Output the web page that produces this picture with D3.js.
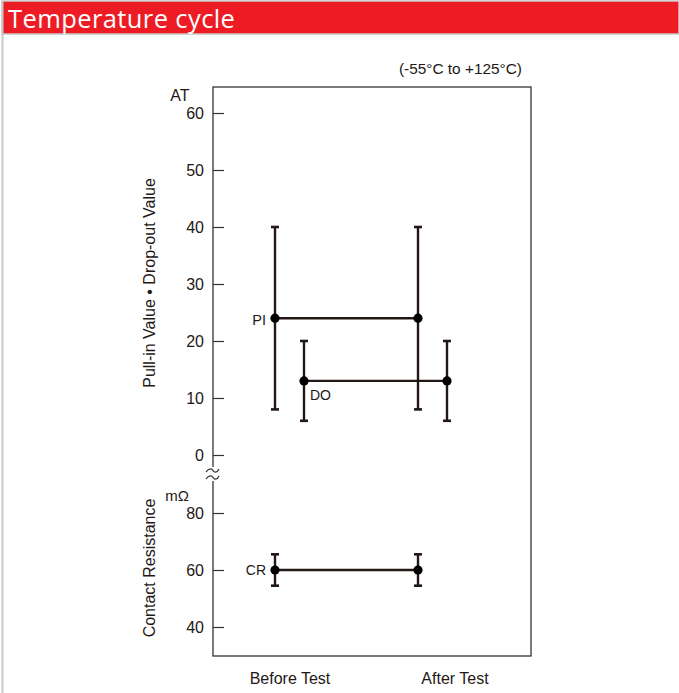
<!DOCTYPE html>
<html><head><meta charset="utf-8">
<script src="https://cdn.jsdelivr.net/npm/d3@7"></script>
<style>
html,body{margin:0;padding:0;background:#fff;}
svg{display:block;}
</style></head>
<body>
<svg id="c" width="679" height="693"></svg>
<script>
const categories = ["Before Test", "After Test"];
const atTicks = [0, 10, 20, 30, 40, 50, 60];
const crTicks = [40, 60, 80];
// series: [center, min, max] per category
const piValues = [[24, 8, 40], [24, 8, 40]];
const doValues = [[13, 6, 20], [13, 6, 20]];
const crValues = [[60, 54.5, 65.5], [60, 54.5, 65.5]];

const svg = d3.select("#c");
const ink = "#231815";

// page frame + header
svg.append("rect").attr("x", 0).attr("y", 0).attr("width", 679).attr("height", 693).attr("fill", "#fff");
svg.append("rect").attr("x", 2).attr("y", 1).attr("width", 677).attr("height", 33).attr("fill", "#ed1c24").attr("stroke", "#c8c8c8").attr("stroke-width", 1.5);
svg.append("line").attr("x1", 2.5).attr("x2", 2.5).attr("y1", 1).attr("y2", 693).attr("stroke", "#c8c8c8").attr("stroke-width", 2);
svg.append("text").attr("x", 8).attr("y", 27.5).attr("fill", "#fff")
  .attr("font-family", "'Open Sans', 'Noto Sans', sans-serif").attr("font-size", 25.5)
  .attr("letter-spacing", 0.4).text("Temperature cycle");

const font = "'Liberation Sans', Arial, sans-serif";

// plot frame
const L = 213, T = 87, R = 531, B = 656;
svg.append("rect").attr("x", L).attr("y", T).attr("width", R - L).attr("height", B - T)
  .attr("fill", "none").attr("stroke", "#333").attr("stroke-width", 1.3);

const yAT = d3.scaleLinear().domain([0, 60]).range([455, 113]);
const yCR = d3.scaleLinear().domain([40, 80]).range([627, 513]);
const x = d3.scalePoint().domain(categories).range([275, 418]);
const doOffset = 29;

function styleAxis(g) {
  g.select(".domain").remove();
  g.selectAll(".tick line").attr("stroke", "#333").attr("stroke-width", 1.2);
  g.selectAll(".tick text").attr("font-family", font).attr("font-size", 16).attr("fill", "#231815");
}
svg.append("g").attr("transform", `translate(${L},0)`)
  .call(d3.axisLeft(yAT).tickValues(atTicks).tickSize(-11).tickPadding(9).tickFormat(d3.format("d")))
  .call(styleAxis);
svg.append("g").attr("transform", `translate(${L},0)`)
  .call(d3.axisLeft(yCR).tickValues(crTicks).tickSize(-11).tickPadding(9).tickFormat(d3.format("d")))
  .call(styleAxis);

// axis break symbol
const by = 474;
svg.append("rect").attr("x", L - 8).attr("y", by - 7).attr("width", 16).attr("height", 14).attr("fill", "#fff");
[-3.5, 3.5].forEach(dy => {
  svg.append("path")
    .attr("d", `M${L - 7},${by + dy + 1.5} C${L - 4},${by + dy - 3} ${L - 1},${by + dy - 2} ${L},${by + dy} S${L + 4},${by + dy + 3} ${L + 6},${by + dy - 1.5}`)
    .attr("fill", "none").attr("stroke", "#333").attr("stroke-width", 1.3);
});

// unit labels
svg.append("text").attr("x", 180).attr("y", 101).attr("text-anchor", "middle").attr("font-family", font).attr("font-size", 16).attr("fill", ink).text("AT");
svg.append("text").attr("x", 177).attr("y", 501).attr("text-anchor", "middle").attr("font-family", font).attr("font-size", 15).attr("fill", ink).text("mΩ");
svg.append("text").attr("x", 522).attr("y", 74).attr("text-anchor", "end").attr("font-family", font).attr("font-size", 15.4).attr("fill", ink).text("(-55°C to +125°C)");

// axis titles
svg.append("text").attr("transform", `translate(155,${283}) rotate(-90)`).attr("text-anchor", "middle")
  .attr("font-family", font).attr("font-size", 16).attr("fill", ink).text("Pull-in Value • Drop-out Value");
svg.append("text").attr("transform", `translate(155,${568}) rotate(-90)`).attr("text-anchor", "middle")
  .attr("font-family", font).attr("font-size", 16).attr("fill", ink).text("Contact Resistance");

// category labels
const catLabelX = [290, 455];
categories.forEach((c, i) => {
  svg.append("text").attr("x", catLabelX[i]).attr("y", 684).attr("text-anchor", "middle")
    .attr("font-family", font).attr("font-size", 16).attr("fill", ink).text(c);
});

function drawSeries(vals, y, off) {
  const g = svg.append("g");
  const px = categories.map(c => x(c) + off);
  g.append("line").attr("x1", px[0]).attr("x2", px[1]).attr("y1", y(vals[0][0])).attr("y2", y(vals[1][0]))
    .attr("stroke", ink).attr("stroke-width", 2.4);
  vals.forEach((v, i) => {
    g.append("line").attr("x1", px[i]).attr("x2", px[i]).attr("y1", y(v[1])).attr("y2", y(v[2]))
      .attr("stroke", ink).attr("stroke-width", 2.4);
    [v[1], v[2]].forEach(e => g.append("line").attr("x1", px[i] - 4).attr("x2", px[i] + 4)
      .attr("y1", y(e)).attr("y2", y(e)).attr("stroke", ink).attr("stroke-width", 2.6));
    g.append("circle").attr("cx", px[i]).attr("cy", y(v[0])).attr("r", 4.6).attr("fill", "#000");
  });
  return px;
}
const piX = drawSeries(piValues, yAT, 0);
const doX = drawSeries(doValues, yAT, doOffset);
const crX = drawSeries(crValues, yCR, 0);

const lblFont = 14.5;
svg.append("text").attr("x", piX[0] - 9).attr("y", yAT(piValues[0][0]) + 7).attr("text-anchor", "end")
  .attr("font-family", font).attr("font-size", lblFont).attr("fill", ink).text("PI");
svg.append("text").attr("x", doX[0] + 6).attr("y", yAT(doValues[0][0]) + 19)
  .attr("font-family", font).attr("font-size", 14).attr("fill", ink).text("DO");
svg.append("text").attr("x", crX[0] - 9).attr("y", yCR(crValues[0][0]) + 5).attr("text-anchor", "end")
  .attr("font-family", font).attr("font-size", 14).attr("fill", ink).text("CR");
</script>
</body></html>
